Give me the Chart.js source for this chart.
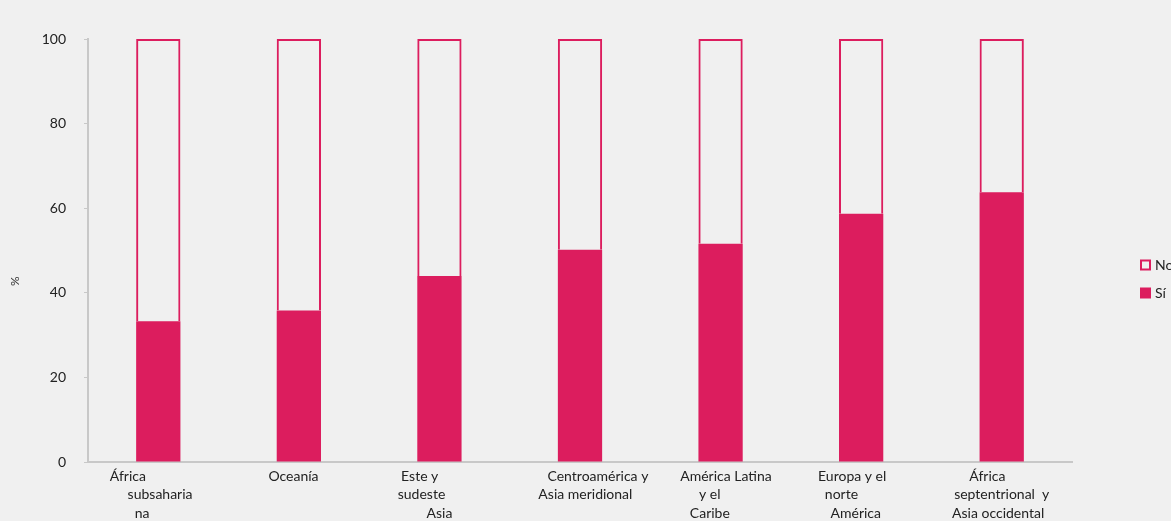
<!DOCTYPE html>
<html>
<head>
<meta charset="utf-8">
<script src="https://cdn.jsdelivr.net/npm/chart.js@4/dist/chart.umd.min.js"></script>
<style>
  html, body { margin: 0; padding: 0; background: #f0f0f0; }
  #wrap { width: 1171px; height: 521px; }
</style>
</head>
<body>
<div id="wrap"><canvas id="chart" width="1171" height="521"></canvas></div>
<script>
// regions, with the line breaks and spacing used in the axis labels
const regions = [
  ["África                 ", " subsaharia", "na         "],
  ["Oceanía   "],
  ["Este y           ", "sudeste          ", "Asia"],
  ["          Centroamérica y", "   Asia meridional"],
  ["   América Latina", "y el      ", "Caribe      "],
  ["Europa y el     ", "norte           ", "América   "],
  ["África        ", "septentrional  y", "Asia occidental  "]
];
const siValues = [33.3, 35.8, 44.0, 50.2, 51.6, 58.7, 63.8];
const noValues = siValues.map(v => 100 - v);
const yTicks = [0, 20, 40, 60, 80, 100];

const crimson = "#dc1d5e";
const axisGrey = "#c8c8c8";
const fontFamily = "Lato, 'Open Sans', sans-serif";

// small legend to the right of the plot, "No" above "Sí"
const sideLegend = {
  id: "sideLegend",
  afterDraw(chart) {
    const ctx = chart.ctx;
    const x = chart.chartArea.right + 68;
    let y = chart.height / 2 + 4.5;
    const sets = chart.data.datasets.slice().reverse();
    ctx.save();
    ctx.font = "14px " + fontFamily;
    ctx.textBaseline = "middle";
    sets.forEach(ds => {
      if (ds.backgroundColor === crimson) {
        ctx.fillStyle = crimson;
        ctx.fillRect(x, y - 5.5, 11, 11);
      } else {
        ctx.strokeStyle = ds.borderColor;
        ctx.lineWidth = 2;
        ctx.strokeRect(x + 1, y - 4.5, 9, 9);
      }
      ctx.fillStyle = "#222";
      ctx.fillText(ds.label, x + 15, y);
      y += 28;
    });
    ctx.restore();
  }
};

new Chart(document.getElementById("chart"), {
  type: "bar",
  data: {
    labels: regions,
    datasets: [
      {
        label: "Sí",
        data: siValues,
        backgroundColor: crimson,
        borderWidth: 0
      },
      {
        label: "No",
        data: noValues,
        backgroundColor: "rgba(0,0,0,0)",
        borderColor: crimson,
        borderWidth: 2
      }
    ]
  },
  options: {
    responsive: false,
    animation: false,
    layout: { padding: { left: 0, right: 99, top: 39, bottom: 0 } },
    datasets: {
      bar: { barPercentage: 0.315, categoryPercentage: 1 }
    },
    plugins: {
      legend: { display: false },
      tooltip: { enabled: false }
    },
    scales: {
      x: {
        stacked: true,
        grid: { display: false, drawTicks: false },
        border: { display: true, color: axisGrey, width: 2 },
        ticks: {
          color: "#222",
          padding: 5,
          maxRotation: 0,
          autoSkip: false,
          font: { family: fontFamily, size: 14, lineHeight: 1.32 }
        },
        afterFit(scale) { scale.height = 59; }
      },
      y: {
        stacked: true,
        min: 0,
        max: 100,
        afterBuildTicks(scale) { scale.ticks = yTicks.map(v => ({ value: v })); },
        grid: { drawOnChartArea: false, drawTicks: true, tickLength: 4, color: axisGrey, lineWidth: 1 },
        border: { display: true, color: axisGrey, width: 2 },
        ticks: {
          color: "#222",
          padding: 18,
          font: { family: fontFamily, size: 14 }
        },
        title: {
          display: true,
          text: "%                    ",
          color: "#333",
          padding: { top: 8, bottom: 0 },
          font: { family: fontFamily, size: 12 }
        },
        afterFit(scale) { scale.width = 88; }
      }
    }
  },
  plugins: [sideLegend]
});
</script>
</body>
</html>
